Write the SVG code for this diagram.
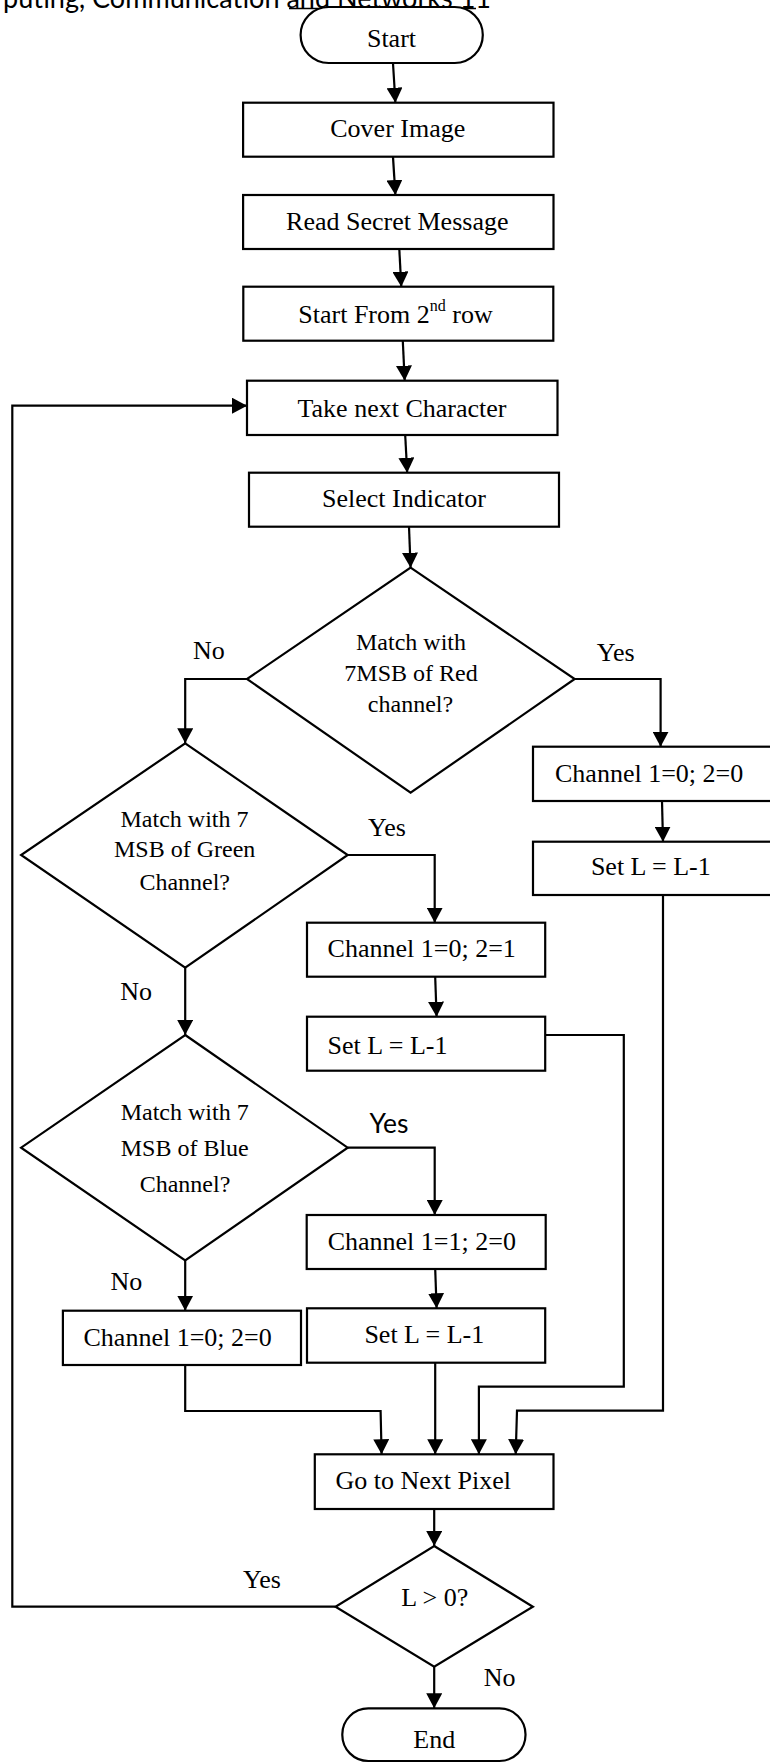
<svg xmlns="http://www.w3.org/2000/svg" width="770" height="1763" viewBox="0 0 770 1763">
<style>
.n{fill:#fff;stroke:#000;stroke-width:2.2}
.t{font-family:"Liberation Serif","Times New Roman",serif;font-size:26px;fill:#000}
.d{font-family:"Liberation Serif","Times New Roman",serif;font-size:24px;fill:#000;text-anchor:middle}
.m{text-anchor:middle}
.c{fill:none;stroke:#000;stroke-width:2.2;marker-end:url(#ah)}
.p{fill:none;stroke:#000;stroke-width:2.2}
.s{font-family:Lato,"Liberation Sans",sans-serif;fill:#000}
</style>
<defs>
<marker id="ah" markerUnits="userSpaceOnUse" markerWidth="16" markerHeight="16" refX="15" refY="8" orient="auto">
<path d="M0,0 L15,8 L0,16 z" fill="#000"/>
</marker>
</defs>
<rect width="770" height="1763" fill="#fff"/>
<g id="header">
<text class="s" x="3" y="7.5" font-size="28" textLength="488" lengthAdjust="spacingAndGlyphs">puting, Communication and Networks 11</text>
<line x1="289" y1="8.5" x2="476" y2="8.5" stroke="#000" stroke-width="1.5"/>
</g>
<g id="connectors">
<path class="c" d="M393,63 L395.4,102.7"/>
<path class="c" d="M393,157 L395.4,195"/>
<path class="c" d="M399.3,249 L401.3,286.7"/>
<path class="c" d="M402.8,341 L404.7,380.7"/>
<path class="c" d="M405.2,435 L407.2,472.7"/>
<path class="c" d="M409,526.7 L410.6,567.7"/>
<path class="c" d="M247,679 L185.2,679 L185.2,743.3"/>
<path class="c" d="M574.7,679 L660.6,679 L660.6,746.7"/>
<path class="c" d="M662,801 L663,841.7"/>
<path class="c" d="M663,895 L663,1410.7 L517,1410.7 L515.7,1454.3"/>
<path class="c" d="M347.7,855 L434.7,855 L434.7,922.7"/>
<path class="c" d="M435.2,977 L436.6,1016.7"/>
<path class="c" d="M545.2,1035 L623.8,1035 L623.8,1386.7 L478.9,1386.7 L478.9,1454.3"/>
<path class="c" d="M185.2,967.7 L185.2,1035"/>
<path class="c" d="M347.7,1147.7 L434.7,1147.7 L434.7,1215"/>
<path class="c" d="M435.2,1269 L436.6,1308.3"/>
<path class="c" d="M435.2,1362.7 L435.2,1454.3"/>
<path class="c" d="M185.2,1260.4 L185.2,1310.7"/>
<path class="c" d="M185.2,1365 L185.2,1411 L380.6,1411 L381.6,1454.3"/>
<path class="c" d="M434.2,1509 L434.2,1546"/>
<path class="c" d="M335.5,1606.7 L12.3,1606.7 L12.3,405.7 L247,405.7"/>
<path class="c" d="M434.2,1666.7 L434.2,1708.3"/>
</g>
<g id="start"><rect class="n" x="300.6" y="7" width="182.2" height="56" rx="28" ry="28"/><text class="t m" x="391.5" y="46.7">Start</text></g>
<g id="cover"><rect class="n" x="243.1" y="102.7" width="310.4" height="54"/><text class="t m" x="397.8" y="137.3">Cover Image</text></g>
<g id="read"><rect class="n" x="243.1" y="195" width="310.4" height="54"/><text class="t m" x="397.3" y="230">Read Secret Message</text></g>
<g id="startfrom"><rect class="n" x="243.3" y="286.7" width="310" height="54"/><text class="t" x="298.3" y="323.3">Start From 2<tspan font-size="16" dy="-12">nd</tspan><tspan dy="12"> row</tspan></text></g>
<g id="take"><rect class="n" x="247" y="380.7" width="310.5" height="54.3"/><text class="t m" x="402" y="416.5">Take next Character</text></g>
<g id="select"><rect class="n" x="249" y="472.7" width="310" height="54"/><text class="t m" x="404" y="507.3">Select Indicator</text></g>
<g id="red"><polygon class="n" points="410.6,567.7 574.7,679 410.6,792.7 247,679"/>
<text class="d" x="411" y="650">Match with</text><text class="d" x="411" y="681">7MSB of Red</text><text class="d" x="410.5" y="712">channel?</text></g>
<g id="green"><polygon class="n" points="185.2,743.3 347.7,855 185.2,967.7 21.1,855"/>
<text class="d" x="184.5" y="826.7">Match with 7</text><text class="d" x="184.7" y="857.3">MSB of Green</text><text class="d" x="184.7" y="890">Channel?</text></g>
<g id="blue"><polygon class="n" points="185.2,1035 347.7,1147.7 185.2,1260.4 21.1,1147.7"/>
<text class="d" x="184.7" y="1120">Match with 7</text><text class="d" x="184.7" y="1156">MSB of Blue</text><text class="d" x="185" y="1191.7">Channel?</text></g>
<g id="ch_red"><rect class="n" x="533" y="746.7" width="250" height="54.3"/><text class="t" x="555" y="781.7">Channel 1=0; 2=0</text></g>
<g id="setl_red"><rect class="n" x="533" y="841.7" width="250" height="53.3"/><text class="t m" x="650.8" y="875">Set L = L-1</text></g>
<g id="ch_green"><rect class="n" x="307" y="922.7" width="238.2" height="54"/><text class="t" x="327.6" y="957.3">Channel 1=0; 2=1</text></g>
<g id="setl_green"><rect class="n" x="307" y="1016.7" width="238.2" height="54"/><text class="t" x="327.6" y="1054">Set L = L-1</text></g>
<g id="ch_blue"><rect class="n" x="306.7" y="1215" width="239" height="54"/><text class="t" x="327.7" y="1250">Channel 1=1; 2=0</text></g>
<g id="setl_blue"><rect class="n" x="307" y="1308.3" width="238.2" height="54.4"/><text class="t" x="364.4" y="1343.3">Set L = L-1</text></g>
<g id="ch_none"><rect class="n" x="62.9" y="1310.7" width="238.1" height="54.3"/><text class="t" x="83.5" y="1345.7">Channel 1=0; 2=0</text></g>
<g id="gonext"><rect class="n" x="314.8" y="1454.3" width="238.7" height="54.7"/><text class="t" x="335.5" y="1489.3">Go to Next Pixel</text></g>
<g id="lcheck"><polygon class="n" points="434.2,1546 532.9,1606.7 434.2,1666.7 335.5,1606.7"/><text class="t m" x="434.7" y="1605.7">L &gt; 0?</text></g>
<g id="end"><rect class="n" x="342.3" y="1708.3" width="183.2" height="52.7" rx="26" ry="26"/><text class="t m" x="434.2" y="1748.3">End</text></g>
<g id="labels">
<text class="t" x="193" y="659">No</text>
<text class="t" x="596.8" y="660.7">Yes</text>
<text class="t" x="368" y="836">Yes</text>
<text class="t" x="120.3" y="1000">No</text>
<text class="s" x="369.4" y="1133.3" font-size="26" textLength="39" lengthAdjust="spacingAndGlyphs">Yes</text>
<text class="t" x="110.5" y="1290">No</text>
<text class="t" x="243" y="1588.3">Yes</text>
<text class="t" x="483.8" y="1686">No</text>
</g>
</svg>
